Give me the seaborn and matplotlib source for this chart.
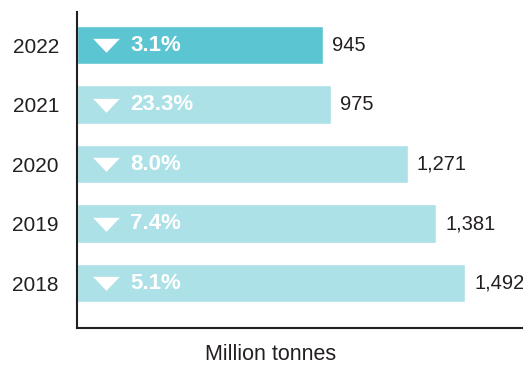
import matplotlib
matplotlib.use("Agg")
import matplotlib.pyplot as plt
import matplotlib.transforms as mtransforms
from matplotlib.path import Path
import seaborn as sns
import pandas as pd

years = ["2022", "2021", "2020", "2019", "2018"]
volumes = [945, 975, 1271, 1381, 1492]
declines = ["3.1%", "23.3%", "8.0%", "7.4%", "5.1%"]
value_labels = ["945", "975", "1,271", "1,381", "1,492"]
axis_label = "Million tonnes"

df = pd.DataFrame({"year": years, "volume": volumes})

sns.set_theme(style="white")
plt.rcParams["font.family"] = ["Liberation Sans", "DejaVu Sans"]

DARK = "#5BC5D1"
LIGHT = "#ABE1E7"
TEXT = "#231F20"

fig = plt.figure(figsize=(5.23, 3.65), dpi=100)
ax = fig.add_axes([77 / 523, 1 - 328 / 365, 446 / 523, 316 / 365])

palette = [DARK] + [LIGHT] * (len(years) - 1)
sns.barplot(data=df, x="volume", y="year", hue="year", palette=palette,
            legend=False, width=0.64, ax=ax, saturation=1)

ax.set_xlim(0, 1715)
ax.set_ylim(4.756, -0.555)

for s in ("top", "right"):
    ax.spines[s].set_visible(False)
for s in ("left", "bottom"):
    ax.spines[s].set_color(TEXT)
    ax.spines[s].set_linewidth(1.5)

ax.set_xticks([])
ax.tick_params(axis="y", length=0, pad=13, labelsize=15, labelcolor=TEXT)
ax.set_ylabel("")
ax.set_xlabel(axis_label, fontsize=15.5, color=TEXT)
ax.xaxis.set_label_coords(0.435, -0.101, transform=ax.transAxes)
ax.xaxis.label.set_va("baseline")

# flat downward triangle marker
tri = Path([(-1.0, 0.5), (1.0, 0.5), (0.0, -0.55), (-1.0, 0.5)],
           [Path.MOVETO, Path.LINETO, Path.LINETO, Path.CLOSEPOLY])
tri_trans = mtransforms.offset_copy(ax.transData, fig=fig, x=29, y=0, units="dots")

for i, (v, pct, lab) in enumerate(zip(volumes, declines, value_labels)):
    ax.scatter([0], [i], marker=tri, s=370, color="white", linewidths=0,
               transform=tri_trans, zorder=5)
    ax.annotate(pct, xy=(0, i), xytext=(53, 0), textcoords="offset pixels",
                va="center", ha="left", fontsize=16, fontweight="bold",
                color="white", zorder=6)
    ax.annotate(lab, xy=(v, i), xytext=(9, 0), textcoords="offset pixels",
                va="center", ha="left", fontsize=14.5, color=TEXT,
                annotation_clip=False)

fig.savefig("out.png", dpi=100)
